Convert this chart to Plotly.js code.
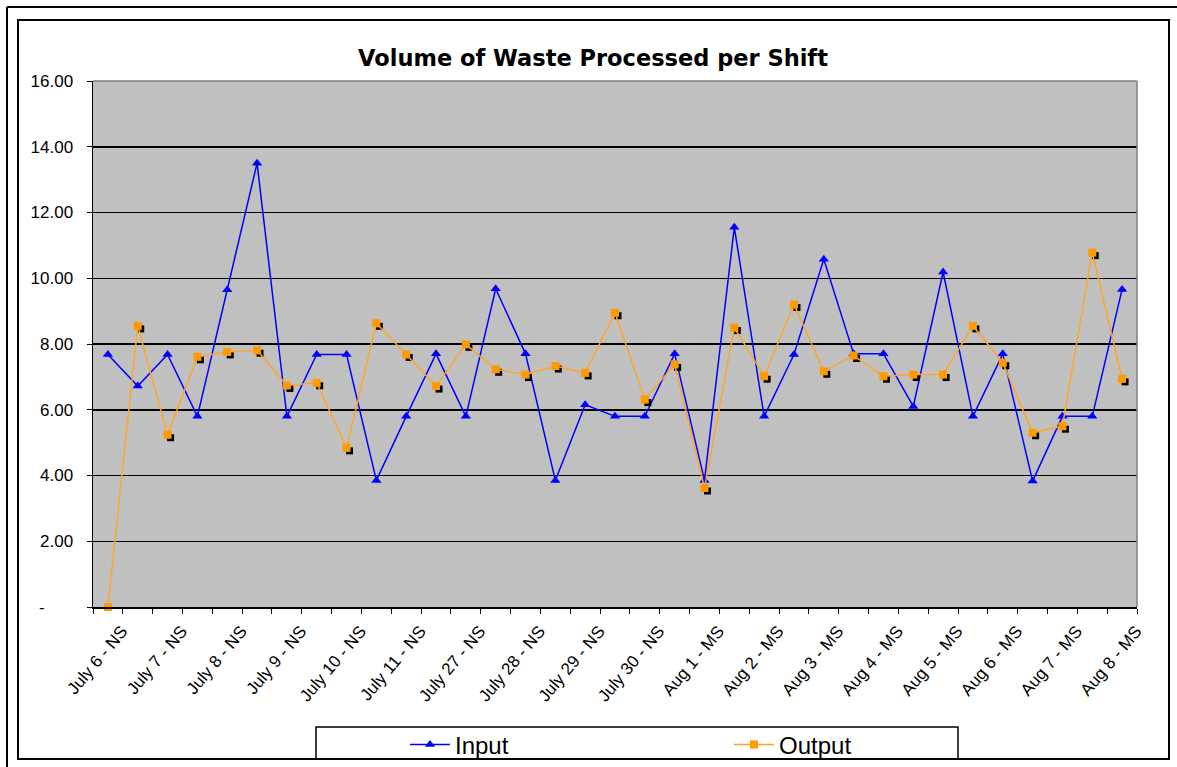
<!DOCTYPE html>
<html>
<head>
<meta charset="utf-8">
<script src="https://cdn.plot.ly/plotly-3.0.1.min.js"></script>
<style>html,body{margin:0;padding:0;background:#fff;}#chart{width:1177px;height:767px;}</style>
</head>
<body>
<div id="chart"></div>
<script>
// Categories (shifts); only every other one is labelled on the axis
const categories = [
  "July 6 - NS","July 7 - DS","July 7 - NS","July 8 - DS","July 8 - NS","July 9 - DS",
  "July 9 - NS","July 10 - DS","July 10 - NS","July 11 - DS","July 11 - NS","July 27 - DS",
  "July 27 - NS","July 28 - DS","July 28 - NS","July 29 - DS","July 29 - NS","July 30 - DS",
  "July 30 - NS","Aug 1 - DS","Aug 1 - MS","Aug 1 - NS","Aug 2 - MS","Aug 2 - NS",
  "Aug 3 - MS","Aug 3 - NS","Aug 4 - MS","Aug 4 - NS","Aug 5 - MS","Aug 5 - NS",
  "Aug 6 - MS","Aug 6 - NS","Aug 7 - MS","Aug 7 - NS","Aug 8 - MS"
];
const inputValues = [
  7.68, 6.72, 7.68, 5.80, 9.65, 13.50, 5.80, 7.68, 7.68, 3.85,
  5.80, 7.70, 5.80, 9.68, 7.70, 3.85, 6.15, 5.80, 5.80, 7.70,
  3.85, 11.55, 5.80, 7.68, 10.58, 7.70, 7.70, 6.10, 10.19, 5.80,
  7.70, 3.83, 5.80, 5.80, 9.66
];
const outputValues = [
  0.00, 8.55, 5.24, 7.61, 7.76, 7.81, 6.74, 6.82, 4.84, 8.63,
  7.68, 6.72, 7.99, 7.23, 7.07, 7.33, 7.12, 8.95, 6.31, 7.38,
  3.62, 8.50, 7.02, 9.20, 7.17, 7.65, 7.02, 7.07, 7.07, 8.55,
  7.43, 5.30, 5.50, 10.78, 6.94
];
const yTickVals = [0, 2, 4, 6, 8, 10, 12, 14, 16];
const yTickText = ["-\u00a0\u00a0\u00a0\u00a0\u00a0\u00a0", "2.00", "4.00", "6.00", "8.00", "10.00", "12.00", "14.00", "16.00"];
const xTickText = categories.map((c, i) => (i % 2 === 0 ? c : ""));

// plot area geometry in pixels
const W = 1177, H = 767;
const L = 93, R = 1137, T = 81, B = 607;
const pw = R - L, ph = B - T;
const px = v => (v - L) / pw;
const py = v => (B - v) / ph;

const n = categories.length;
const xr = [-0.5, n - 0.5];
const yr = [0, 16];
const sdx = 3 / (pw / n), sdy = 3 / (ph / 16);

const font = "Liberation Sans, Arial, sans-serif";

const traces = [
  {
    name: "Input", type: "scatter", mode: "lines+markers",
    x: categories, y: inputValues, xaxis: "x", yaxis: "y",
    line: {color: "#0000FF", width: 1.5},
    marker: {symbol: "triangle-up", size: 9, color: "#0000FF"},
    cliponaxis: false
  },
  {
    name: "shadow", type: "scatter", mode: "markers", showlegend: false, hoverinfo: "skip",
    x: categories, y: outputValues, xaxis: "x2", yaxis: "y2",
    marker: {symbol: "square", size: 7, color: "#000000"},
    cliponaxis: false
  },
  {
    name: "Output", type: "scatter", mode: "lines+markers",
    x: categories, y: outputValues, xaxis: "x3", yaxis: "y3",
    line: {color: "#FFA526", width: 1.5},
    marker: {symbol: "square", size: 8, color: "#FF9900"},
    cliponaxis: false
  }
];

const hiddenX = {type: "category", categoryorder: "array", categoryarray: categories,
  showgrid: false, showticklabels: false, ticks: "", showline: false, zeroline: false, overlaying: "x"};
const hiddenY = {showgrid: false, showticklabels: false, ticks: "", showline: false, zeroline: false, overlaying: "y"};

const layout = {
  width: W, height: H,
  margin: {l: L, r: W - R, t: T, b: H - B, pad: 0, autoexpand: false},
  paper_bgcolor: "#FFFFFF",
  plot_bgcolor: "#C0C0C0",
  showlegend: true,
  title: {
    text: "<b>Volume of Waste Processed per Shift</b>",
    font: {family: "DejaVu Sans, sans-serif", size: 22.5, color: "#000"},
    x: 593 / W, xanchor: "center", xref: "container",
    y: 1 - 58 / H, yanchor: "middle", yref: "container"
  },
  xaxis: {
    type: "category", categoryorder: "array", categoryarray: categories,
    range: xr, autorange: false,
    tickmode: "array", tickvals: categories, ticktext: xTickText,
    tickson: "boundaries", ticks: "outside", ticklen: 5, tickcolor: "#000", tickwidth: 1,
    tickangle: -50, ticklabelshift: 14, ticklabelstandoff: 6,
    tickfont: {family: font, size: 17, color: "#000"},
    showline: true, linecolor: "#000", linewidth: 1.5,
    showgrid: false, zeroline: false, automargin: false
  },
  yaxis: {
    range: yr, autorange: false,
    tickmode: "array", tickvals: yTickVals, ticktext: yTickText,
    ticks: "outside", ticklen: 5, tickcolor: "#000", tickwidth: 1,
    ticklabelstandoff: 10,
    tickfont: {family: font, size: 17, color: "#000"},
    showline: true, linecolor: "#000", linewidth: 1.5,
    showgrid: true, gridcolor: "#000", gridwidth: 1.5,
    zeroline: false, automargin: false
  },
  xaxis2: Object.assign({}, hiddenX, {range: [xr[0] - sdx, xr[1] - sdx], autorange: false}),
  yaxis2: Object.assign({}, hiddenY, {range: [yr[0] + sdy, yr[1] + sdy], autorange: false}),
  xaxis3: Object.assign({}, hiddenX, {range: xr, autorange: false}),
  yaxis3: Object.assign({}, hiddenY, {range: yr, autorange: false}),
  legend: {
    orientation: "h",
    x: px(405), xanchor: "left", xref: "paper",
    y: py(745), yanchor: "middle", yref: "paper",
    font: {family: font, size: 24, color: "#000"},
    bgcolor: "rgba(0,0,0,0)",
    entrywidth: 269, entrywidthmode: "pixels",
    itemwidth: 40
  },
  shapes: [
    // plot area border (top & right grey)
    {type: "line", xref: "paper", yref: "paper", x0: 0, x1: 1, y0: 1, y1: 1, line: {color: "#808080", width: 1.5}},
    {type: "line", xref: "paper", yref: "paper", x0: 1, x1: 1, y0: 0, y1: 1, line: {color: "#808080", width: 1.5}},
    // inner chart frame
    {type: "rect", xref: "paper", yref: "paper", x0: px(18), x1: px(1169), y0: py(759), y1: py(20), line: {color: "#000", width: 2}},
    // outer lines
    {type: "line", xref: "paper", yref: "paper", x0: px(7), x1: px(1177), y0: py(7), y1: py(7), line: {color: "#000", width: 2}},
    {type: "line", xref: "paper", yref: "paper", x0: px(7), x1: px(7), y0: py(7), y1: py(767), line: {color: "#000", width: 2}},
    // legend box
    {type: "rect", xref: "paper", yref: "paper", x0: px(316), x1: px(958), y0: py(759), y1: py(727), line: {color: "#000", width: 1.5}}
  ]
};

Plotly.newPlot("chart", traces, layout, {displayModeBar: false, staticPlot: true});
</script>
</body>
</html>
